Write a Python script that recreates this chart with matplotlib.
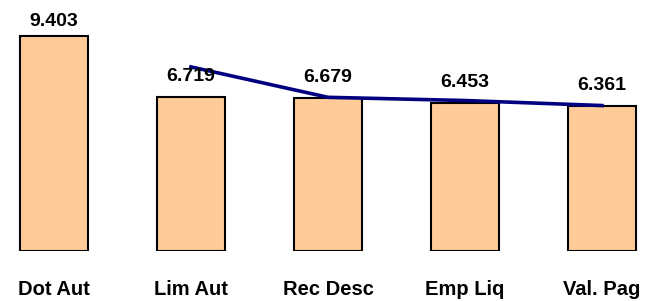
import numpy as np
import matplotlib
matplotlib.use('Agg')
import matplotlib.pyplot as plt

# data
categories = ['Dot Aut', 'Lim Aut', 'Rec Desc', 'Emp Liq', 'Val. Pag']
bar_values = [9.403, 6.719, 6.679, 6.453, 6.361]
line_values = [8.05, 6.72, 6.58, 6.36]   # line drawn from Lim Aut onwards
bar_labels = ['9.403', '6.719', '6.679', '6.453', '6.361']

plt.rcParams['font.family'] = ['Liberation Sans', 'DejaVu Sans']

fig = plt.figure(figsize=(6.51, 3.01), dpi=100)
ax = fig.add_axes([0, 50 / 301, 1, 251 / 301])

x = np.arange(len(categories))
ax.bar(x, bar_values, width=0.5, color='#FFCC99', edgecolor='black', linewidth=1.5, zorder=2)
ax.plot(x[1:], line_values, color='#000080', linewidth=2.6, zorder=3)

# value labels above bars (kept inside the top of the chart)
for xi, v, lab in zip(x, bar_values, bar_labels):
    ax.text(xi, min(v + 0.7, 9.84), lab, ha='center', va='baseline',
            fontsize=14, fontweight='bold', zorder=4)

ax.set_xlim(-0.394, 4.358)
ax.set_ylim(0, 10.975)
ax.set_xticks(x)
ax.set_xticklabels(categories, fontsize=14.5, fontweight='bold')
ax.tick_params(axis='x', length=0, pad=21)
ax.set_yticks([])
for s in ax.spines.values():
    s.set_visible(False)

fig.savefig('out.png', dpi=100)
